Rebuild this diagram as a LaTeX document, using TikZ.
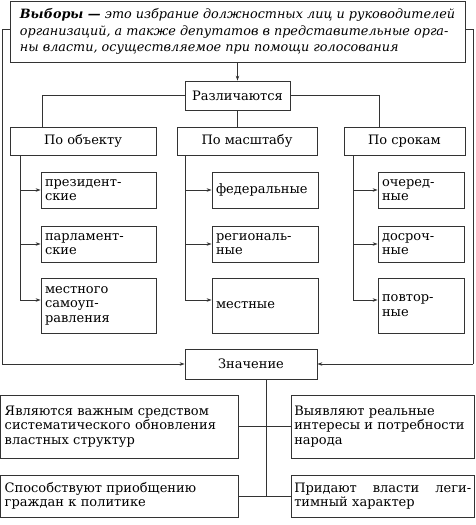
\documentclass[tikz,border=0pt]{standalone}
\usepackage{fontspec}
\setmainfont{DejaVu Serif}
\usetikzlibrary{arrows.meta}
\begin{document}
\begin{tikzpicture}[x=1pt,y=-1pt,
  line width=0.8pt,
  box/.style={draw=black!80, rectangle, inner sep=0pt, align=left,
    font=\fontsize{13}{14.5}\selectfont},
  lbl/.style={box, align=center},
  conn/.style={draw=black!80, line width=0.7pt},
  arr/.style={conn, -{Stealth[length=5pt,width=3.5pt]}}]
\useasboundingbox (0,0) rectangle (475,525);
% top definition box
\node[box, minimum width=455pt, minimum height=61pt,
  font=\fontsize{12.8}{16.5}\selectfont\itshape] (top) at (237.5,31.5)
  {\textbf{Выборы —} это избрание должностных лиц и руководителей\\
   организаций, а также депутатов в представительные орга-\\
   ны власти, осуществляемое при помощи голосования};
\node[lbl, minimum width=105pt, minimum height=29pt] (razl) at (237.5,95.5) {Различаются};
\node[lbl, minimum width=146pt, minimum height=28pt] (obj) at (83,141) {По объекту};
\node[lbl, minimum width=140pt, minimum height=28pt] (msh) at (247,141) {По масштабу};
\node[lbl, minimum width=121pt, minimum height=28pt] (srk) at (404.5,141) {По срокам};
% sub boxes left
\node[box, minimum width=115pt, minimum height=36pt, text width=107pt] (o1) at (98.5,190) {президент-\\ские};
\node[box, minimum width=115pt, minimum height=36pt, text width=107pt] (o2) at (98.5,244) {парламент-\\ские};
\node[box, minimum width=115pt, minimum height=55pt, text width=107pt] (o3) at (98.5,305.5) {местного\\самоуп-\\равления};
% middle
\node[box, minimum width=106pt, minimum height=36pt, text width=98pt] (m1) at (265,190) {федеральные};
\node[box, minimum width=106pt, minimum height=36pt, text width=98pt] (m2) at (265,244) {региональ-\\ные};
\node[box, minimum width=106pt, minimum height=55pt, text width=98pt] (m3) at (265,305.5) {местные};
% right
\node[box, minimum width=86pt, minimum height=36pt, text width=78pt] (s1) at (421,190) {очеред-\\ные};
\node[box, minimum width=86pt, minimum height=36pt, text width=78pt] (s2) at (421,244) {досроч-\\ные};
\node[box, minimum width=86pt, minimum height=55pt, text width=78pt] (s3) at (421,305.5) {повтор-\\ные};
% Значение
\node[lbl, minimum width=132pt, minimum height=30pt] (zn) at (251,364) {Значение};
% bottom boxes
\node[box, minimum width=237.5pt, minimum height=63pt, text width=229pt] (b1) at (119.25,426.5)
  {Являются важным средством\\систематического обновления\\властных структур};
\node[box, minimum width=183.5pt, minimum height=63pt, text width=177pt] (b2) at (382.75,426.5)
  {Выявляют реальные\\интересы и потребности\\народа};
\node[box, minimum width=237.5pt, minimum height=42pt, text width=229pt] (b3) at (119.25,496)
  {Способствуют приобщению\\граждан к политике};
\node[box, minimum width=183.5pt, minimum height=42pt, text width=177pt] (b4) at (382.75,496)
  {Придают\hfill власти\hfill леги-\\тимный характер};
% coordinates
\coordinate (tl) at (2,29);
\coordinate (bl) at (2,364);
\coordinate (tr) at (473,29);
\coordinate (br) at (473,364);
% connectors
\draw[arr] (top.south) -- (razl.north);
\draw[conn] (razl.west) -| (42,127);
\draw[conn] (razl.east) -| (379,127);
\draw[conn] (razl.south) -- (237.5,127);
\draw[conn] (top.west |- tl) -- (tl) -- (bl);
\draw[arr] (bl) -- (zn.west |- bl);
\draw[conn] (top.east |- tr) -- (tr) -- (br);
\draw[arr] (br) -- (zn.east |- br);
% branches
\foreach \c/\a/\b/\d in {20/o1/o2/o3, 185/m1/m2/m3, 353/s1/s2/s3}{
  \coordinate (p1) at (\c,190);
  \coordinate (p2) at (\c,244);
  \coordinate (p3) at (\c,300);
  \draw[conn] (\c,155) -- (p3);
  \draw[arr] (p1) -- (p1 -| \a.west);
  \draw[arr] (p2) -- (p2 -| \b.west);
  \draw[arr] (p3) -- (p3 -| \d.west);
}
% Значение branches
\coordinate (zb) at (266,496);
\draw[conn] (zn.south -| zb) -- (zb);
\draw[conn] (b1.east) -- (b2.west);
\draw[conn] (b3.east) -- (b4.west);
\end{tikzpicture}
\end{document}
